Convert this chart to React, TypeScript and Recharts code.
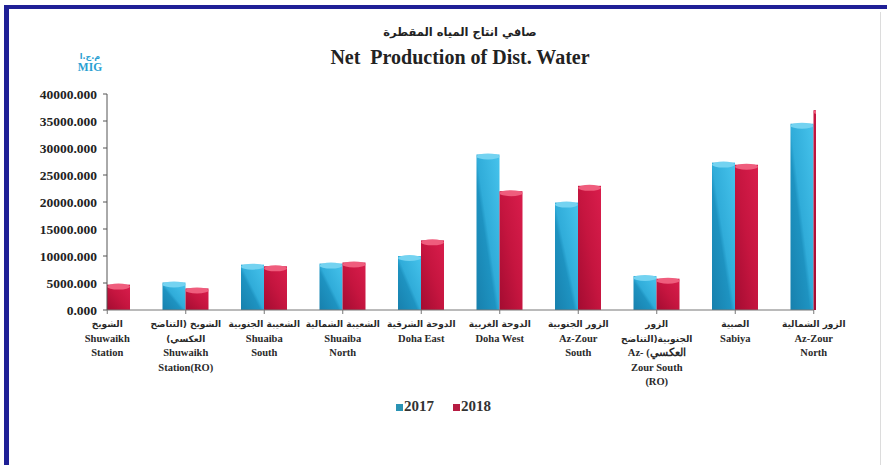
import * as RC from 'recharts'
import { BarChart, Bar, XAxis, YAxis, Legend } from 'recharts'

const categories = ['Shuwaikh Station', 'Shuwaikh Station(RO)', 'Shuaiba South', 'Shuaiba North', 'Doha East', 'Doha West', 'Az-Zour South', 'Az-Zour South (RO)', 'Sabiya', 'Az-Zour North']
const arabicLines = [
  ['الشويخ'],
  ['الشويخ (التناضح', '(العكسي'],
  ['الشعيبة الجنوبية'],
  ['الشعيبة الشمالية'],
  ['الدوحة الشرقية'],
  ['الدوحة الغربية'],
  ['الزور الجنوبية'],
  ['الزور', 'الجنوبية(التناضح'],
  ['الصبية'],
  ['الزور الشمالية'],
]
const englishLines = [
  ['Shuwaikh', 'Station'],
  ['Shuwaikh', 'Station(RO)'],
  ['Shuaiba', 'South'],
  ['Shuaiba', 'North'],
  ['Doha East'],
  ['Doha West'],
  ['Az-Zour', 'South'],
  ['Az-    (العكسي', 'Zour South', '(RO)'],
  ['Sabiya'],
  ['Az-Zour', 'North'],
]
const values2017 = [0, 5100, 8400, 8600, 10000, 28800, 19900, 6300, 27300, 34500]
const values2018 = [4700, 4000, 8100, 8800, 12900, 22000, 23000, 5800, 26900, 37000]
const yTicks = [0, 5000, 10000, 15000, 20000, 25000, 30000, 35000, 40000]

const data = categories.map((c, i) => ({ name: c, '2017': values2017[i], '2018': values2018[i] }))

const serif = '"Liberation Serif", "Times New Roman", serif'
const arabicFont = '"DejaVu Sans", sans-serif'

// plot-area clip, so the half bands at both ends get cut like the original
const usePA: () => any = (RC as any).usePlotArea || (RC as any).useOffset || (() => null)

function PlotClip() {
  const pa = usePA()
  if (!pa) return null
  const x = pa.x ?? pa.left
  const y = pa.y ?? pa.top
  return (
    <defs>
      <clipPath id="plotClip">
        <rect x={x} y={y - 20} width={pa.width + 2} height={pa.height + 20} />
      </clipPath>
    </defs>
  )
}

function XTick(props: any) {
  const { x, y, payload } = props
  const i = payload.index
  const lines = [...arabicLines[i].map(t => ({ t, ar: true })), ...englishLines[i].map(t => ({ t, ar: false }))]
  return (
    <g transform={`translate(${x},${y})`}>
      {lines.map((l, k) => (
        <text key={k} x={0} y={11 + k * 14.5} textAnchor="middle" fill="#2a2a2a"
          fontFamily={l.ar ? arabicFont : serif} fontWeight="bold" fontSize={l.ar ? 9 : 10.5}>
          {l.t}
        </text>
      ))}
    </g>
  )
}

function CylBar(props: any) {
  const { x, y, width, height, fill, cap } = props
  if (!height || height <= 0) return <g />
  return (
    <g clipPath="url(#plotClip)">
      <rect x={x} y={y} width={width} height={height} fill={fill} />
      <ellipse cx={x + width / 2} cy={y + 2} rx={width / 2} ry={3} fill={cap} />
    </g>
  )
}

function LegendBox() {
  const items = [{ label: '2017', color: '#2a93b4' }, { label: '2018', color: '#b61c42' }]
  return (
    <div style={{ display: 'flex', justifyContent: 'center', gap: 19, fontFamily: serif, fontWeight: 'bold', fontSize: 15, color: '#333' }}>
      {items.map(it => (
        <span key={it.label} style={{ display: 'flex', alignItems: 'center' }}>
          <span style={{ display: 'inline-block', width: 7, height: 7, background: it.color, marginRight: 1, marginTop: 2 }} />
          {it.label}
        </span>
      ))}
    </div>
  )
}

export default function App() {
  return (
    <div style={{ position: 'relative', width: 887, height: 465, background: '#fff', overflow: 'hidden' }}>
      <style>{'body{margin:0}'}</style>
      <div style={{ position: 'absolute', left: 4, top: 5, width: 5, height: 460, background: '#1f2096' }} />
      <div style={{ position: 'absolute', left: 4, top: 5, width: 883, height: 4, background: '#1f2096' }} />
      <div style={{ position: 'absolute', left: 880, top: 12, width: 1, height: 453, background: '#dcdcdc' }} />
      <div style={{ position: 'absolute', left: 0, top: 25, width: 887, textAlign: 'center', paddingLeft: 33, boxSizing: 'border-box', fontFamily: arabicFont, fontWeight: 'bold', fontSize: 11.5, color: '#222' }}>
        صافي انتاج المياه المقطرة
      </div>
      <div style={{ position: 'absolute', left: 0, top: 46, width: 887, textAlign: 'center', paddingLeft: 33, boxSizing: 'border-box', fontFamily: serif, fontWeight: 'bold', fontSize: 20, color: '#222', whiteSpace: 'pre' }}>
        {'Net  Production of Dist. Water'}
      </div>
      <div style={{ position: 'absolute', left: 70, top: 51, width: 40, textAlign: 'center', fontFamily: serif, fontWeight: 'bold', color: '#2a9fd2', lineHeight: '11px' }}>
        <div style={{ fontFamily: arabicFont, fontSize: 8 }}>م.ج.ا</div>
        <div style={{ fontSize: 11.5 }}>MIG</div>
      </div>
      <div style={{ position: 'absolute', left: 0, top: 0 }}>
        <BarChart width={887} height={465} data={data} margin={{ top: 94, right: 73, left: 0, bottom: 0 }} barGap={0} barSize={23}>
          <defs>
            <linearGradient id="g2017" x1="1" y1="0" x2="0" y2="1">
              <stop offset="0" stopColor="#46c3ec" />
              <stop offset="0.5" stopColor="#30acd9" />
              <stop offset="0.58" stopColor="#1e93c1" />
              <stop offset="1" stopColor="#1780ad" />
            </linearGradient>
            <linearGradient id="g2018" x1="1" y1="0" x2="0" y2="1">
              <stop offset="0" stopColor="#d91d4c" />
              <stop offset="0.5" stopColor="#c5153f" />
              <stop offset="1" stopColor="#a30c31" />
            </linearGradient>
          </defs>
          <PlotClip />
          <XAxis dataKey="name" interval={0} height={155} tick={<XTick />} tickSize={4} tickMargin={2}
            stroke="#777" padding={{ left: -39, right: -39 }} allowDataOverflow />
          <YAxis width={107} domain={[0, 40000]} ticks={yTicks} interval={0} tickSize={4} tickMargin={6}
            stroke="#555" tickFormatter={(v) => Number(v).toFixed(3)}
            tick={{ fontFamily: serif, fontWeight: 'bold', fontSize: 13.5, fill: '#222' }} />
          <Legend verticalAlign="middle" align="center" layout="horizontal" wrapperStyle={{ top: 398, left: 0, width: 887 }} content={<LegendBox />} />
          <Bar dataKey="2017" fill="url(#g2017)" isAnimationActive={false} shape={(p: any) => <CylBar {...p} cap="#74d3f1" />} />
          <Bar dataKey="2018" fill="url(#g2018)" isAnimationActive={false} shape={(p: any) => <CylBar {...p} cap="#ef5d7d" />} />
        </BarChart>
      </div>
    </div>
  )
}
